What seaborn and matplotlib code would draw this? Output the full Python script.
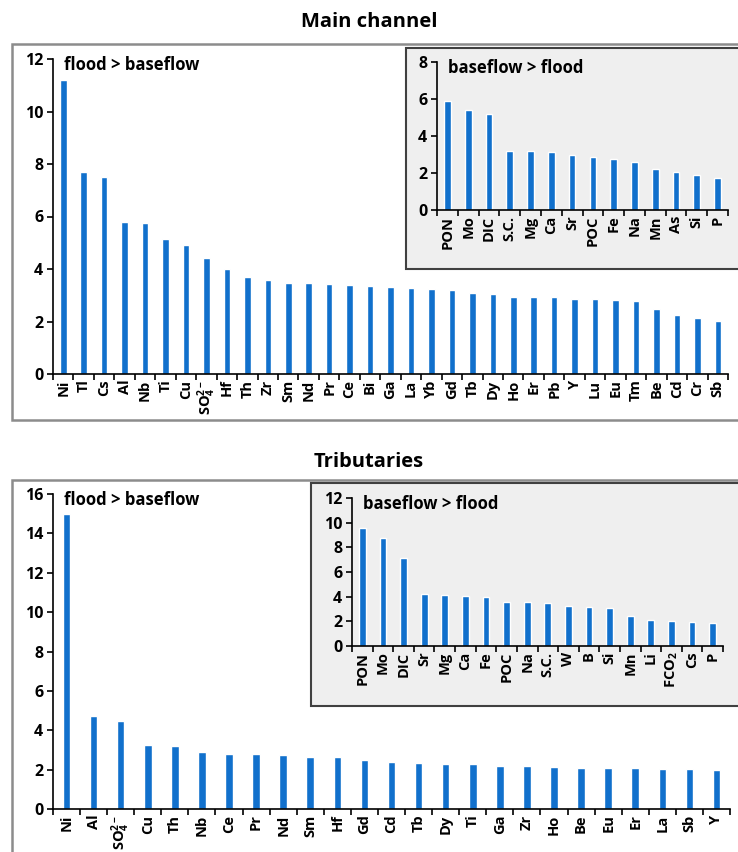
import numpy as np
import pandas as pd
import matplotlib
matplotlib.use("Agg")
import matplotlib.pyplot as plt
import seaborn as sns
from matplotlib.patches import Rectangle
from matplotlib.ticker import FixedLocator

# main channel, flood > baseflow
main_flood_labels = ["Ni", "Tl", "Cs", "Al", "Nb", "Ti", "Cu", r"SO$_4^{2-}$", "Hf", "Th", "Zr",
                     "Sm", "Nd", "Pr", "Ce", "Bi", "Ga", "La", "Yb", "Gd", "Tb", "Dy", "Ho",
                     "Er", "Pb", "Y", "Lu", "Eu", "Tm", "Be", "Cd", "Cr", "Sb"]
main_flood_values = [11.2, 7.7, 7.5, 5.8, 5.75, 5.15, 4.93, 4.43, 4.0, 3.68, 3.6,
                     3.48, 3.45, 3.43, 3.4, 3.37, 3.31, 3.27, 3.22, 3.19, 3.07, 3.04, 2.95,
                     2.94, 2.94, 2.86, 2.86, 2.81, 2.8, 2.46, 2.25, 2.15, 2.03]

# main channel, baseflow > flood
main_base_labels = ["PON", "Mo", "DIC", "S.C.", "Mg", "Ca", "Sr", "POC", "Fe", "Na", "Mn", "As", "Si", "P"]
main_base_values = [5.87, 5.43, 5.17, 3.2, 3.2, 3.12, 2.99, 2.88, 2.73, 2.59, 2.21, 2.06, 1.89, 1.71]

# tributaries, flood > baseflow
trib_flood_labels = ["Ni", "Al", r"SO$_4^{2-}$", "Cu", "Th", "Nb", "Ce", "Pr", "Nd", "Sm", "Hf", "Gd",
                     "Cd", "Tb", "Dy", "Ti", "Ga", "Zr", "Ho", "Be", "Eu", "Er", "La", "Sb", "Y"]
trib_flood_values = [15.0, 4.7, 4.46, 3.25, 3.22, 2.92, 2.79, 2.79, 2.74, 2.64, 2.64, 2.48,
                     2.38, 2.34, 2.3, 2.3, 2.2, 2.17, 2.13, 2.1, 2.07, 2.07, 2.03, 2.03, 1.98]

# tributaries, baseflow > flood
trib_base_labels = ["PON", "Mo", "DIC", "Sr", "Mg", "Ca", "Fe", "POC", "Na", "S.C.", "W", "B",
                    "Si", "Mn", "Li", r"FCO$_2$", "Cs", "P"]
trib_base_values = [9.6, 8.75, 7.16, 4.22, 4.17, 4.05, 4.0, 3.58, 3.58, 3.48, 3.27, 3.19,
                    3.1, 2.45, 2.07, 2.02, 1.96, 1.9]

sns.set_style("white")
plt.rcParams["font.family"] = ["Open Sans", "DejaVu Sans"]
plt.rcParams["font.weight"] = "bold"
plt.rcParams["text.color"] = "black"
plt.rcParams["xtick.color"] = "black"
plt.rcParams["ytick.color"] = "black"
plt.rcParams["mathtext.fontset"] = "custom"
plt.rcParams["mathtext.rm"] = "Open Sans:bold"
plt.rcParams["mathtext.it"] = "Open Sans:bold"
plt.rcParams["mathtext.bf"] = "Open Sans:bold"
plt.rcParams["mathtext.default"] = "rm"

BLUE = "#1170CC"
W, H = 738, 852
fig = plt.figure(figsize=(W / 100, H / 100), dpi=100)


def fbox(x0, y0, x1, y1):
    # pixel box (top-left origin) -> figure fraction rect
    return [x0 / W, 1 - y1 / H, (x1 - x0) / W, (y1 - y0) / H]


def frame(x0, y0, x1, y1, fc, ec, lw, z):
    r = fbox(x0, y0, x1, y1)
    fig.add_artist(Rectangle((r[0], r[1]), r[2], r[3], transform=fig.transFigure,
                             facecolor=fc, edgecolor=ec, linewidth=lw, clip_on=False,
                             zorder=z))


def bars(rect, labels, values, ymax, ystep, note, width, z, fs=10.5):
    ax = fig.add_axes(fbox(*rect))
    ax.set_zorder(z)
    ax.patch.set_alpha(0)
    df = pd.DataFrame({"label": labels, "value": values})
    sns.barplot(data=df, x="label", y="value", color=BLUE, width=width,
                saturation=1, ax=ax)
    n = len(labels)
    ax.set_xlim(-0.5, n - 0.5)
    ax.set_ylim(0, ymax)
    ax.set_yticks(np.arange(0, ymax + 0.1, ystep))
    ax.set_xlabel("")
    ax.set_ylabel("")
    for s in ["top", "right"]:
        ax.spines[s].set_visible(False)
    for s in ["left", "bottom"]:
        ax.spines[s].set_color("black")
        ax.spines[s].set_linewidth(1.2)
    ax.xaxis.set_minor_locator(FixedLocator(np.arange(n + 1) - 0.5))
    ax.tick_params(axis="x", which="major", length=0, pad=4, labelsize=fs, rotation=90)
    ax.tick_params(axis="x", which="minor", length=4, width=1.2, color="black", bottom=True)
    ax.tick_params(axis="y", which="major", length=4, width=1.2, color="black", left=True,
                   labelsize=11.5, pad=3)
    for t in ax.get_xticklabels() + ax.get_yticklabels():
        t.set_fontweight("bold")
    ax.annotate(note, xy=(0, 1), xycoords="axes fraction", xytext=(8, 2),
                textcoords="offset points", ha="left", va="top",
                fontsize=12, fontweight="bold")
    return ax


# Main channel
fig.text(369 / W, 1 - 22 / H, "Main channel", ha="center", va="center", fontsize=14.5, fontweight="bold")
frame(12, 44, 745, 420, "white", "#8c8c8c", 1.8, 0)
bars((53, 59, 728, 374), main_flood_labels, main_flood_values, 12, 2, "flood > baseflow", 0.32, 1)
frame(406, 48, 745, 269, "#efefef", "#404040", 1.5, 2)
bars((437, 62, 728, 210), main_base_labels, main_base_values, 8, 2, "baseflow > flood", 0.32, 3)

# Tributaries
fig.text(369 / W, 1 - 462 / H, "Tributaries", ha="center", va="center", fontsize=14.5, fontweight="bold")
frame(12, 480, 745, 870, "white", "#8c8c8c", 1.8, 0)
bars((53, 494, 730, 809), trib_flood_labels, trib_flood_values, 16, 2, "flood > baseflow", 0.28, 1)
frame(311, 483, 745, 706, "#efefef", "#404040", 1.5, 2)
bars((352, 498, 723, 646), trib_base_labels, trib_base_values, 12, 2, "baseflow > flood", 0.33, 3)

fig.savefig("out.png", dpi=100)
